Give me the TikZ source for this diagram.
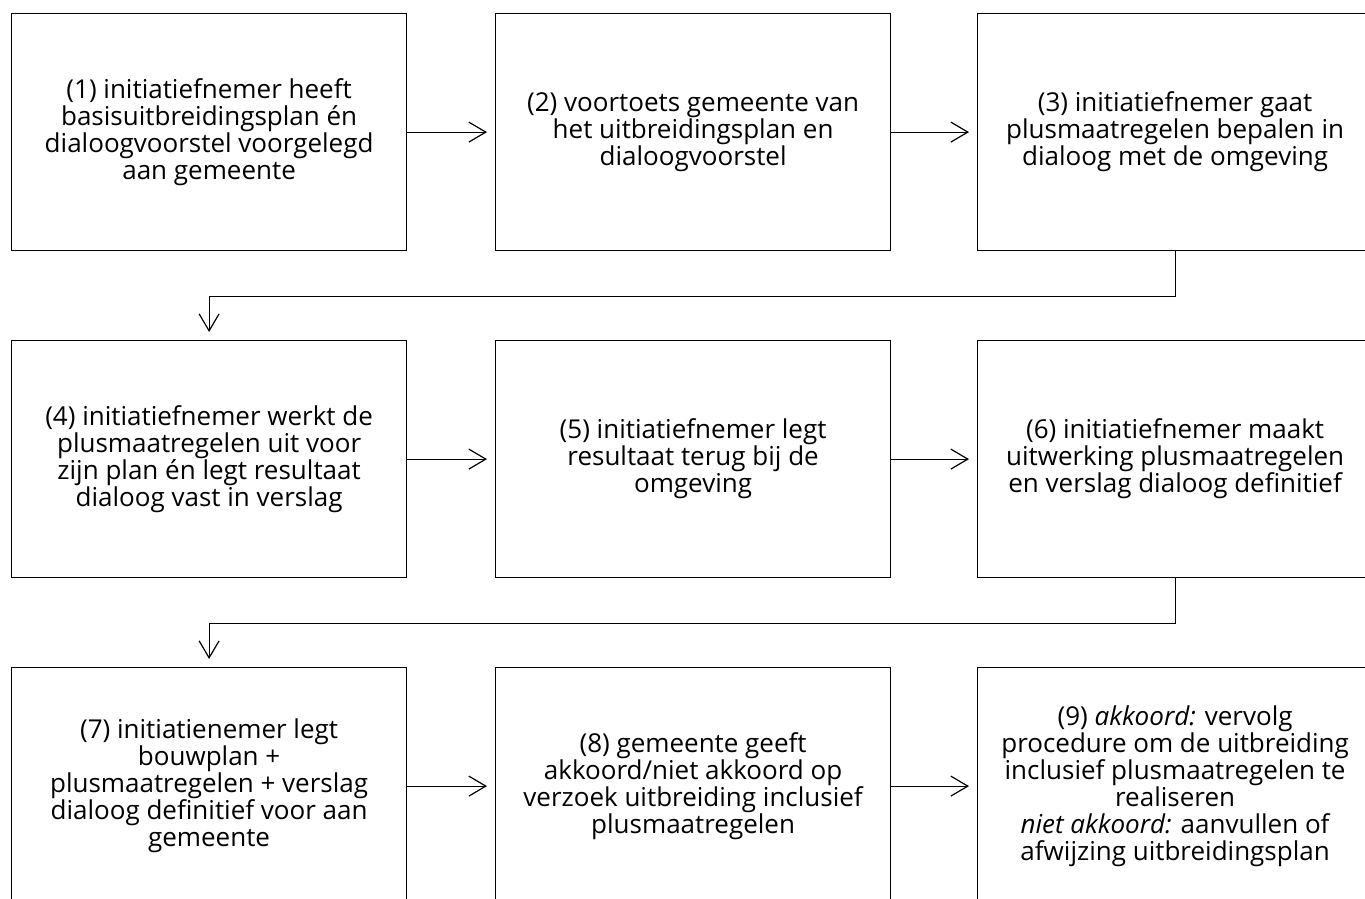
\documentclass[tikz,border=0pt]{standalone}
\usepackage{fontspec}
\setmainfont{Open Sans}
\usepackage{tikz}
\usetikzlibrary{arrows.meta,positioning}

\begin{document}
\begin{tikzpicture}[x=1pt,y=-1pt,
        stap/.style={draw,line width=1.2pt,minimum width=395pt,minimum height=237pt,
                align=center,anchor=north west,font=\fontsize{26}{27}\selectfont},
        pijl/.style={line width=1.2pt,-{Straight Barb[length=17pt,width=20pt,line width=1.2pt]},shorten >=8pt}]
\useasboundingbox (0,0) rectangle (1365,898);
\clip (0,0) rectangle (1365,898);

\node[stap] (s1) at (11,13) {(1) initiatiefnemer heeft\\basisuitbreidingsplan én\\dialoogvoorstel voorgelegd\\aan gemeente};
\node[stap] (s2) at (495,13) {(2) voortoets gemeente van\\het uitbreidingsplan en\\dialoogvoorstel};
\node[stap] (s3) at (977,13) {(3) initiatiefnemer gaat\\plusmaatregelen bepalen in\\dialoog met de omgeving};

\node[stap] (s4) at (11,340) {(4) initiatiefnemer werkt de\\plusmaatregelen uit voor\\zijn plan én legt resultaat\\dialoog vast in verslag};
\node[stap] (s5) at (495,340) {(5) initiatiefnemer legt\\resultaat terug bij de\\omgeving};
\node[stap] (s6) at (977,340) {(6) initiatiefnemer maakt\\uitwerking plusmaatregelen\\en verslag dialoog definitief};

\node[stap] (s7) at (11,667) {(7) initiatienemer legt\\bouwplan +\\plusmaatregelen + verslag\\dialoog definitief voor aan\\gemeente};
\node[stap] (s8) at (495,667) {(8) gemeente geeft\\akkoord/niet akkoord op\\verzoek uitbreiding inclusief\\plusmaatregelen};
\node[stap] (s9) at (977,667) {(9) \textit{akkoord:} vervolg\\procedure om de uitbreiding\\inclusief plusmaatregelen te\\realiseren\\\textit{niet akkoord:} aanvullen of\\afwijzing uitbreidingsplan};

\draw[pijl] (s1) -- (s2);
\draw[pijl] (s2) -- (s3);
\draw[pijl] (s3.south) -- ++(0,45) -| (s4.north);
\draw[pijl] (s4) -- (s5);
\draw[pijl] (s5) -- (s6);
\draw[pijl] (s6.south) -- ++(0,45) -| (s7.north);
\draw[pijl] (s7) -- (s8);
\draw[pijl] (s8) -- (s9);
\end{tikzpicture}
\end{document}
